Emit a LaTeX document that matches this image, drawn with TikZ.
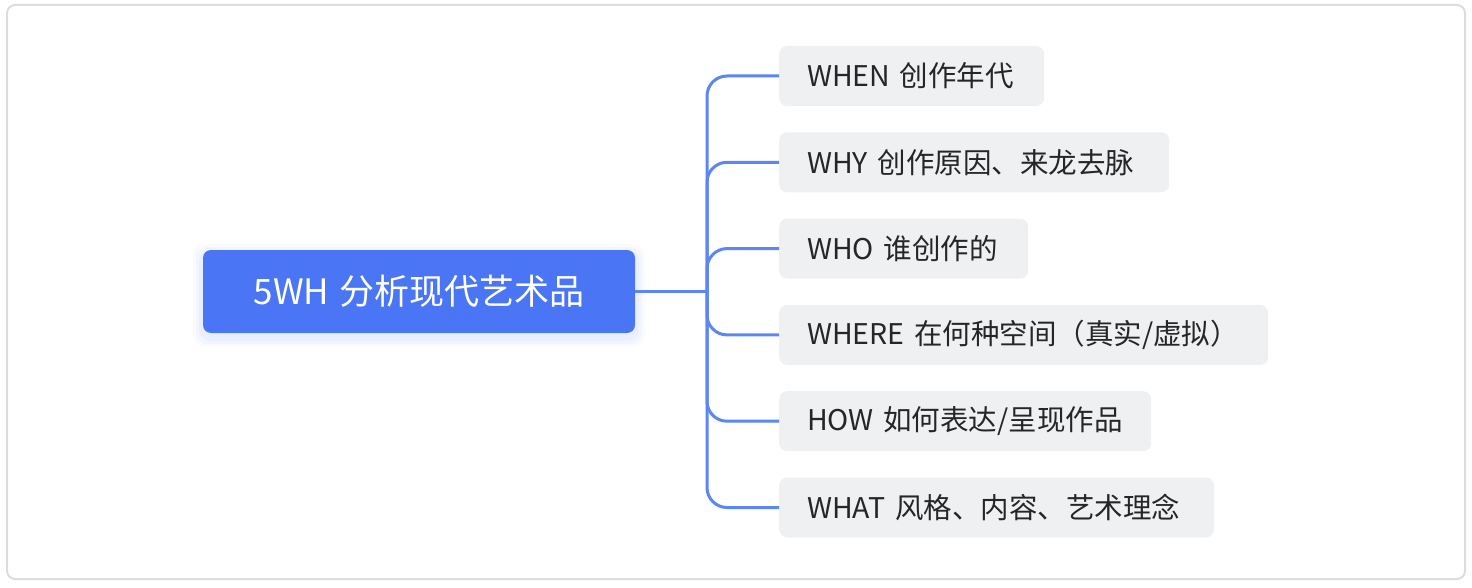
\documentclass[tikz,border=0pt]{standalone}
\usepackage{fontspec}
\setmainfont[WordSpace=1.3]{Noto Sans CJK SC}
\definecolor{rootblue}{HTML}{4A76F5}
\definecolor{linkblue}{HTML}{5C86F4}
\definecolor{childgray}{HTML}{EFF0F2}
\definecolor{textdark}{HTML}{262626}
\definecolor{framegray}{HTML}{DCDCDE}
\tikzset{
  rootbox/.style={fill=rootblue, text=white, rounded corners=8pt, minimum width=432pt, minimum height=83pt, inner sep=0pt, font=\fontsize{35pt}{40pt}\selectfont},
  childbox/.style={fill=childgray, text=textdark, rounded corners=8pt, minimum height=60pt, inner xsep=28pt, inner ysep=0pt, align=left, anchor=west, font=\fontsize{28.5pt}{33pt}\selectfont},
  link/.style={draw=linkblue, line width=3pt, rounded corners=20pt},
}
\begin{document}
\begin{tikzpicture}[x=1pt,y=-1pt]
\useasboundingbox (0,0) rectangle (1472,588);
\draw[framegray, line width=2pt, rounded corners=8pt] (7,5) rectangle (1465,579);
% soft shadow under root
\foreach \i/\o in {10/0.03,7/0.04,4/0.05}{
  \fill[rootblue, opacity=\o, rounded corners=12pt] (203-\i,254-\i) rectangle (635+\i,337+\i);
}
\node[rootbox] (root) at (419,291.5) {5WH 分析现代艺术品};
\node[childbox, text width=209pt] (c1) at (779,76) {WHEN 创作年代};
\node[childbox, text width=334pt] (c2) at (779,162.3) {WHY 创作原因、来龙去脉};
\node[childbox, text width=193pt] (c3) at (779,248.6) {WHO 谁创作的};
\node[childbox, text width=433pt] (c4) at (779,334.9) {WHERE 在何种空间（真实/虚拟）};
\node[childbox, text width=316pt] (c5) at (779,421.2) {HOW 如何表达/呈现作品};
\node[childbox, text width=379pt] (c6) at (779,507.5) {WHAT 风格、内容、艺术理念};
\coordinate (trunk) at (707,291.5);
\draw[link] (root.east) -- (trunk);
\foreach \c in {c1,c2,c3,c4,c5,c6}{
  \draw[link] (trunk) |- (\c.west);
}
\end{tikzpicture}
\end{document}
